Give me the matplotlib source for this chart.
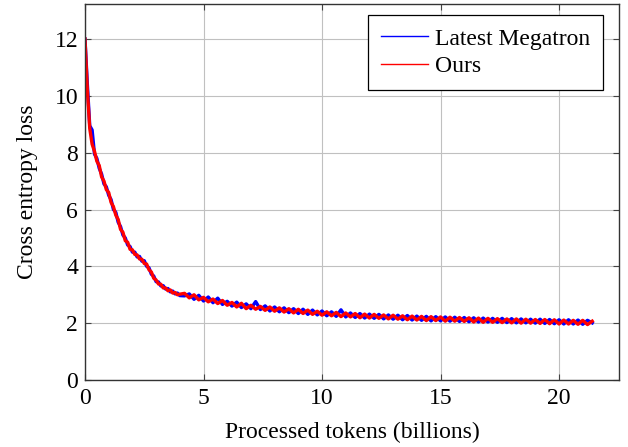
import numpy as np
import matplotlib.pyplot as plt

plt.rcParams['font.family'] = ['Liberation Serif', 'DejaVu Serif']
plt.rcParams['mathtext.fontset'] = 'stix'

# processed tokens (billions): dense sampling early, coarser later
tokens = np.concatenate([np.linspace(0, 4.0, 41), np.linspace(4.2, 21.4, 87)])

megatron = [
    12.0, 10.4, 8.95, 8.8, 7.95, 7.8, 7.45, 7.25, 6.9, 6.8,
    6.5, 6.35, 6.0, 5.9, 5.55, 5.4, 5.1, 5.0, 4.75, 4.7,
    4.5, 4.5, 4.33, 4.35, 4.18, 4.2, 4.0, 3.95, 3.72, 3.66,
    3.46, 3.45, 3.31, 3.32, 3.2, 3.22, 3.1, 3.13, 3.03, 3.06,
    2.97,
    2.96, 3.03, 2.84, 2.98, 2.78, 2.92, 2.72, 2.88, 2.66, 2.77,
    2.60, 2.74, 2.55, 2.68, 2.51, 2.76, 2.48, 2.61, 2.43, 2.57,
    2.40, 2.54, 2.37, 2.51, 2.34, 2.49, 2.31, 2.46, 2.29, 2.43,
    2.26, 2.40, 2.24, 2.47, 2.22, 2.36, 2.20, 2.34, 2.18, 2.32,
    2.17, 2.31, 2.15, 2.29, 2.14, 2.28, 2.12, 2.27, 2.11, 2.25,
    2.10, 2.24, 2.08, 2.23, 2.08, 2.22, 2.07, 2.21, 2.06, 2.20,
    2.05, 2.19, 2.04, 2.18, 2.04, 2.17, 2.03, 2.17, 2.02, 2.16,
    2.01, 2.15, 2.01, 2.14, 2.00, 2.14, 1.99, 2.13, 1.98, 2.12,
    1.97, 2.12, 1.97, 2.11, 1.96, 2.10, 2.01,
]

ours = [
    12.0, 10.2, 8.85, 8.3, 8.05, 7.7, 7.55, 7.15, 7.0, 6.7,
    6.6, 6.25, 6.1, 5.8, 5.65, 5.3, 5.2, 4.9, 4.85, 4.6,
    4.58, 4.42, 4.4, 4.26, 4.25, 4.1, 4.08, 3.88, 3.8, 3.58,
    3.52, 3.38, 3.37, 3.24, 3.24, 3.14, 3.17, 3.06, 3.08, 3.0,
    3.02,
    3.05, 2.89, 3.00, 2.82, 2.91, 2.75, 2.85, 2.69, 2.80, 2.63,
    2.73, 2.57, 2.70, 2.51, 2.63, 2.49, 2.59, 2.45, 2.57, 2.42,
    2.54, 2.39, 2.51, 2.36, 2.49, 2.34, 2.46, 2.31, 2.42, 2.28,
    2.40, 2.26, 2.38, 2.23, 2.36, 2.22, 2.34, 2.19, 2.32, 2.18,
    2.31, 2.17, 2.29, 2.15, 2.28, 2.14, 2.26, 2.12, 2.25, 2.11,
    2.24, 2.09, 2.23, 2.09, 2.22, 2.07, 2.21, 2.07, 2.20, 2.06,
    2.19, 2.04, 2.18, 2.03, 2.17, 2.03, 2.16, 2.02, 2.15, 2.01,
    2.15, 2.00, 2.14, 2.00, 2.13, 1.99, 2.13, 1.98, 2.12, 1.97,
    2.11, 1.97, 2.10, 1.96, 2.10, 1.95, 2.07,
]

fig = plt.figure(figsize=(6.28, 4.47), dpi=100)
ax = fig.add_axes([85 / 628, 67 / 447, 534 / 628, 376.5 / 447])

ax.plot(tokens, megatron, color='blue', lw=2.4, label='Latest Megatron')
ax.plot(tokens, ours, color='red', lw=2.4, label='Ours')

ax.set_xlim(0, 22.53)
ax.set_ylim(0, 13.25)
ax.set_xticks([0, 5, 10, 15, 20])
ax.set_yticks([0, 2, 4, 6, 8, 10, 12])
ax.grid(True, color='#c0c0c0', lw=0.8)
ax.set_axisbelow(True)
ax.tick_params(direction='in', top=True, right=True, length=4, labelsize=17,
               color='#444444', pad=5)
ax.tick_params(axis='x', pad=6)
for s in ax.spines.values():
    s.set_color('#333333')
    s.set_linewidth(1.0)

ax.set_xlabel('Processed tokens (billions)', fontsize=17, labelpad=9)
ax.set_ylabel('Cross entropy loss', fontsize=17, labelpad=12)

leg = ax.legend(loc='upper right', fontsize=17, fancybox=False, framealpha=1,
                edgecolor='black', handlelength=2.0, handletextpad=0.3,
                borderpad=0.55, borderaxespad=0.0,
                bbox_to_anchor=(603 / 628, 1 - 15 / 447),
                bbox_transform=fig.transFigure, labelspacing=0.25)
leg.get_frame().set_linewidth(0.9)
for line in leg.get_lines():
    line.set_linewidth(1.0)

fig.savefig('out.png', dpi=100)
